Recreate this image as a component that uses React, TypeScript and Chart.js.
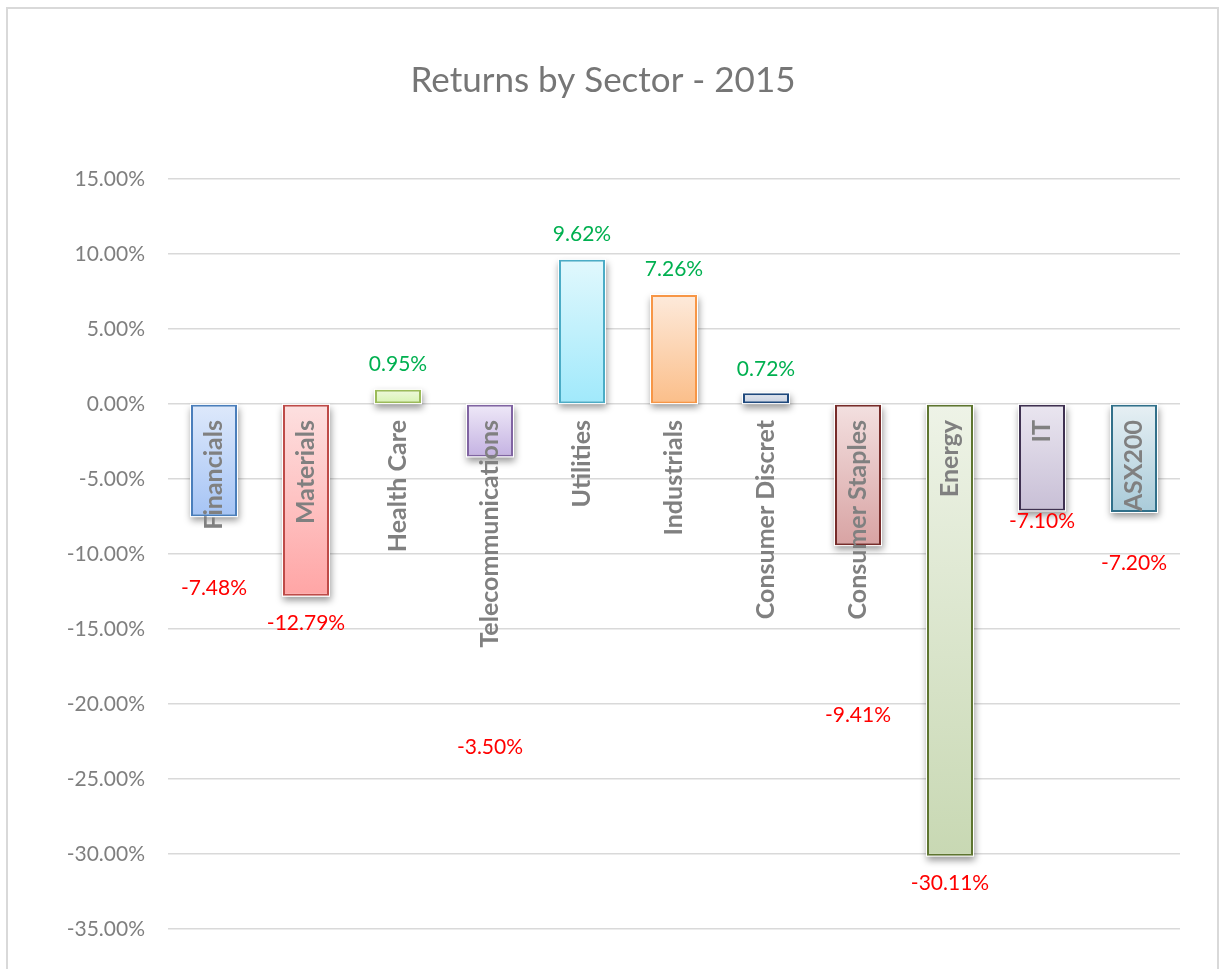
import { useEffect, useRef } from "react";
import { Chart, registerables } from "chart.js";

Chart.register(...registerables);

const categories = [
  "Financials",
  "Materials",
  "Health Care",
  "Telecommunications",
  "Utilities",
  "Industrials",
  "Consumer Discret",
  "Consumer Staples",
  "Energy",
  "IT",
  "ASX200",
];
const returns = [-7.48, -12.79, 0.95, -3.5, 9.62, 7.26, 0.72, -9.41, -30.11, -7.1, -7.2];
// where each value label sits, in axis units (%)
const labelPos = [-12.27, -14.6, 2.67, -22.87, 11.33, 9.0, 2.33, -20.73, -31.93, -7.8, -10.6];
const yMin = -35;
const yMax = 15;
const yStep = 5;

const gradTop = [
  "#dee9fb", "#fde0e0", "#eff9dd", "#efe9f8", "#e1f8fd", "#fdeadb",
  "#e4e8ef", "#f3e0e0", "#eef3e7", "#eae6f0", "#e7f0f4",
];
const gradBottom = [
  "#a6c4f5", "#ffa5a5", "#d6f3b0", "#c4b2e2", "#a0e9fb", "#fbbe89",
  "#c5cee0", "#d8a3a3", "#c8d8b3", "#c8bfd6", "#a9cbd9",
];
const borders = [
  "#4a7ebb", "#be4b48", "#9bbb59", "#8064a2", "#4bacc6", "#f79646",
  "#1f497d", "#772c2a", "#5e7530", "#3f3151", "#31708a",
];

const FONT = "Lato, 'Open Sans', sans-serif";

export default function App() {
  const ref = useRef<HTMLCanvasElement | null>(null);

  useEffect(() => {
    if (!ref.current) return;

    const framePlugin = {
      id: "frame",
      beforeDraw(chart: any) {
        const c = chart.ctx;
        c.save();
        c.fillStyle = "#ffffff";
        c.fillRect(0, 0, chart.width, chart.height);
        c.strokeStyle = "#d9d9d9";
        c.lineWidth = 2;
        c.strokeRect(7, 8, 1211, 1100);
        c.restore();
      },
      beforeDatasetsDraw(chart: any) {
        // soft drop shadows under each bar
        const c = chart.ctx;
        const meta = chart.getDatasetMeta(0);
        c.save();
        c.shadowColor = "rgba(0,0,0,0.4)";
        c.shadowBlur = 7;
        c.shadowOffsetX = 1;
        c.shadowOffsetY = 4;
        c.fillStyle = "#ffffff";
        meta.data.forEach((bar: any) => {
          const p = bar.getProps(["x", "y", "base", "width"], true);
          const top = Math.min(p.y, p.base);
          const h = Math.abs(p.base - p.y);
          c.fillRect(p.x - p.width / 2 - 1, top - 1, p.width + 2, h + 2);
        });
        c.restore();
      },
      afterDatasetsDraw(chart: any) {
        const c = chart.ctx;
        const meta = chart.getDatasetMeta(0);
        const ys = chart.scales.y;
        const zeroY = ys.getPixelForValue(0);
        c.save();
        // category labels
        c.fillStyle = "#808080";
        c.font = `bold 25px ${FONT}`;
        c.textAlign = "right";
        c.textBaseline = "middle";
        meta.data.forEach((bar: any, i: number) => {
          c.save();
          c.translate(bar.x, zeroY + 16);
          c.rotate(-Math.PI / 2);
          c.fillText(categories[i], 0, 0);
          c.restore();
        });
        // value labels
        c.font = `21px ${FONT}`;
        c.textAlign = "center";
        c.textBaseline = "middle";
        meta.data.forEach((bar: any, i: number) => {
          const v = returns[i];
          c.fillStyle = v >= 0 ? "#00b050" : "#ff0000";
          c.fillText(v.toFixed(2) + "%", bar.x, ys.getPixelForValue(labelPos[i]));
        });
        c.restore();
      },
    };

    const chart = new Chart(ref.current, {
      type: "bar",
      data: {
        labels: categories,
        datasets: [
          {
            data: returns,
            backgroundColor: (ctx: any) => {
              const i = ctx.dataIndex;
              const ch = ctx.chart;
              if (i === undefined || !ch.chartArea || !ch.scales.y) return gradBottom[i ?? 0];
              const ys = ch.scales.y;
              const v = returns[i];
              const top = ys.getPixelForValue(Math.max(v, 0));
              const bot = ys.getPixelForValue(Math.min(v, 0));
              const g = ch.ctx.createLinearGradient(0, top, 0, bot);
              g.addColorStop(0, gradTop[i]);
              g.addColorStop(1, gradBottom[i]);
              return g;
            },
            borderColor: borders,
            borderWidth: 2,
            borderSkipped: false,
            barPercentage: 0.5,
            categoryPercentage: 1,
          },
        ],
      },
      options: {
        responsive: false,
        animation: false,
        layout: { padding: { left: 26, right: 40, top: 0, bottom: 40 } },
        plugins: {
          legend: { display: false },
          tooltip: { enabled: false },
          title: {
            display: true,
            text: "Returns by Sector - 2015",
            color: "#767676",
            font: { family: FONT, size: 35, weight: "normal", lineHeight: 1.2 },
            padding: { top: 60, bottom: 77 },
          },
        },
        scales: {
          x: { display: false },
          y: {
            min: yMin,
            max: yMax,
            afterFit: (s: any) => {
              s.width = 142;
            },
            border: { display: false },
            grid: { color: "#d9d9d9", lineWidth: 1.5, drawTicks: false },
            ticks: {
              stepSize: yStep,
              padding: 23,
              color: "#7f7f7f",
              font: { family: FONT, size: 21 },
              callback: (v: any) => Number(v).toFixed(2) + "%",
            },
          },
        },
      },
      plugins: [framePlugin],
    } as any);

    return () => chart.destroy();
  }, []);

  return (
    <div style={{ position: "absolute", left: 0, top: 0, width: 1220, height: 969 }}>
      <canvas ref={ref} width={1220} height={969} />
    </div>
  );
}
